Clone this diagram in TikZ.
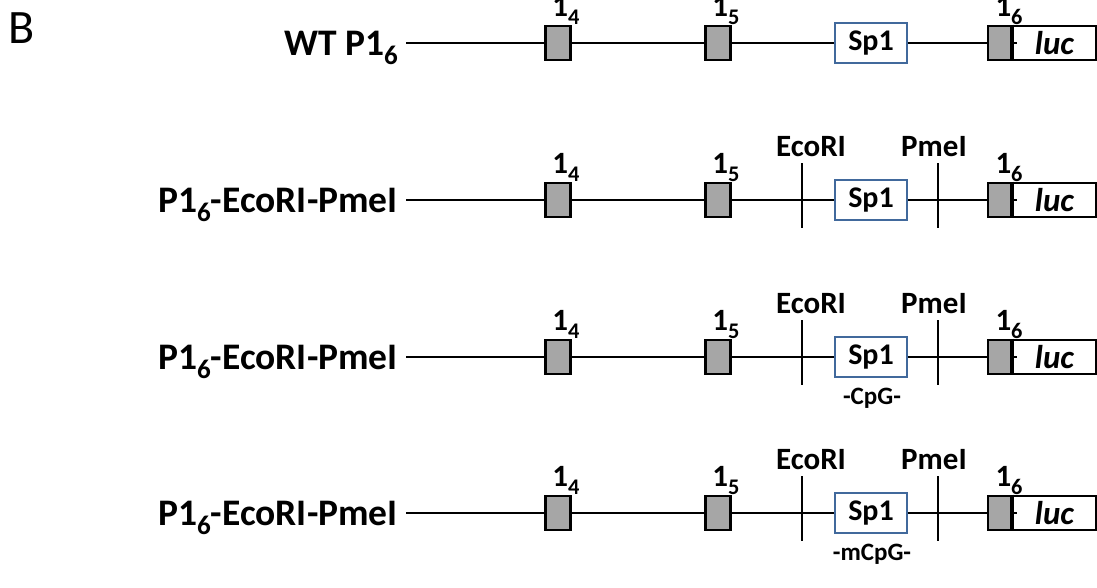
\documentclass[tikz,border=0pt]{standalone}
\usepackage{fontspec}
\setmainfont{Carlito}
\definecolor{exongray}{HTML}{A6A6A6}
\definecolor{sponeblue}{HTML}{41699C}
% lowered, smaller index digit (exon numbers)
\newcommand\idx[1]{\raisebox{-0.26em}{\scalebox{0.72}{#1}}}
\begin{document}
\begin{tikzpicture}[x=1pt,y=-1pt,
  exon/.style={draw=black, line width=2.8pt, fill=exongray,
    minimum width=25pt, minimum height=34pt, inner sep=0pt},
  sponebox/.style={draw=sponeblue, line width=1.9pt, fill=white,
    minimum width=72pt, minimum height=40pt, inner sep=0pt,
    font=\fontsize{30}{32}\selectfont\bfseries},
  lucbox/.style={draw=black, line width=2.8pt, fill=white,
    minimum width=83pt, minimum height=34pt, inner sep=0pt,
    font=\fontsize{33}{35}\selectfont\bfseries\itshape},
  dna/.style={line width=2.8pt},
  sitemark/.style={line width=1.7pt},
  rowlabel/.style={anchor=base east, inner sep=0pt,
    font=\fontsize{37.5}{40}\selectfont\bfseries},
  toplabel/.style={anchor=base, inner sep=0pt,
    font=\fontsize{31}{33}\selectfont\bfseries},
  cpgnote/.style={anchor=base, inner sep=0pt,
    font=\fontsize{25}{27}\selectfont\bfseries}]
\useasboundingbox (0,0) rectangle (1097,587);

\node[anchor=center, inner sep=0pt, font=\fontsize{48}{50}\selectfont] (panel) at (22,28) {B};

\foreach \r/\y/\lab in {1/43/{WT P1\idx{6}},
                       2/200/{P1\idx{6}-EcoRI-PmeI},
                       3/357/{P1\idx{6}-EcoRI-PmeI},
                       4/513/{P1\idx{6}-EcoRI-PmeI}}{
  % construct name and start of the promoter line
  \node[rowlabel] (name-\r) at (398,\y+12) {\lab};
  \coordinate (start-\r) at (406,\y);
  % exons, Sp1 site and reporter
  \node[exon] (ex4-\r) at (558,\y) {};
  \node[exon] (ex5-\r) at (718,\y) {};
  \node[sponebox] (sp1-\r) at (871,\y) {Sp1};
  \node[exon] (ex6-\r) at (1000.5,\y) {};
  \node[lucbox] (luc-\r) at (1054.5,\y) {luc};
  \draw[line width=4.2pt] (luc-\r.north west) -- (luc-\r.south west);
  \draw[line width=1.5pt] (luc-\r.west) -- ++(5,0);
  % promoter line between the elements
  \draw[dna] (start-\r) -- (ex4-\r.west);
  \draw[dna] (ex4-\r.east) -- (ex5-\r.west);
  \draw[dna] (ex5-\r.east) -- (sp1-\r.west);
  \draw[dna] (sp1-\r.east) -- (ex6-\r.west);
  % exon labels
  \node[toplabel] (lab4-\r) at (566,\y-27) {1\idx{4}};
  \node[toplabel] (lab5-\r) at (726,\y-27) {1\idx{5}};
  \node[toplabel] (lab6-\r) at (1009,\y-27) {1\idx{6}};
  % restriction sites
  \ifnum\r>1
    \coordinate (eco-top-\r) at (802,\y-37);
    \coordinate (eco-bot-\r) at (802,\y+28);
    \coordinate (pme-top-\r) at (938,\y-37);
    \coordinate (pme-bot-\r) at (938,\y+28);
    \draw[sitemark] (eco-top-\r) -- (eco-bot-\r);
    \draw[sitemark] (pme-top-\r) -- (pme-bot-\r);
    \node[toplabel] (ecolab-\r) at (811,\y-44) {EcoRI};
    \node[toplabel] (pmelab-\r) at (934,\y-44) {PmeI};
  \fi
}
% methylation state of the Sp1 site
\node[cpgnote] (cpg) at (872,357+47) {-CpG-};
\node[cpgnote] (mcpg) at (872,513+47) {-mCpG-};
\end{tikzpicture}
\end{document}
